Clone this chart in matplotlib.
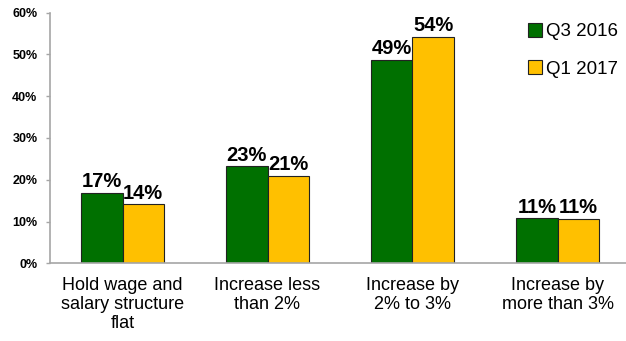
import matplotlib.pyplot as plt
import numpy as np

plt.rcParams['font.family'] = ['Liberation Sans', 'DejaVu Sans']

categories = ["Hold wage and\nsalary structure\nflat", "Increase less\nthan 2%",
              "Increase by\n2% to 3%", "Increase by\nmore than 3%"]
q3_2016 = [16.9, 23.2, 48.7, 10.8]
q1_2017 = [14.1, 20.9, 54.3, 10.6]
series_names = ["Q3 2016", "Q1 2017"]
colors = ["#007000", "#ffc000"]
y_ticks = [0, 10, 20, 30, 40, 50, 60]

fig = plt.figure(figsize=(6.26, 3.41), dpi=100)
ax = fig.add_axes([50 / 626, 77.7 / 341, 580 / 626, 250.6 / 341])

x = np.arange(len(categories))
width = 0.286
for i, (vals, name, col) in enumerate(zip([q3_2016, q1_2017], series_names, colors)):
    pos = x + (i - 0.5) * width
    bars = ax.bar(pos, vals, width, color=col, edgecolor="#222222",
                  linewidth=0.8, label=name)
    for b, v in zip(bars, vals):
        ax.text(b.get_x() + b.get_width() / 2, v + 0.4, f"{v:.0f}%",
                ha="center", va="bottom", fontsize=14.5, fontweight="bold")

ax.set_xlim(-0.5, 3.5)
ax.set_ylim(0, 60)
ax.set_yticks(y_ticks)
ax.set_yticklabels([f"{t}%" for t in y_ticks], fontsize=9, fontweight="bold")
ax.set_xticks(x)
ax.set_xticklabels(categories, fontsize=13, linespacing=1.15)
ax.tick_params(axis="x", length=0, pad=10)
ax.tick_params(axis="y", length=3, width=1, color="#a6a6a6", pad=6)

for s in ["top", "right"]:
    ax.spines[s].set_visible(False)
for s in ["left", "bottom"]:
    ax.spines[s].set_color("#a6a6a6")
    ax.spines[s].set_linewidth(1.2)

leg = fig.legend(loc="upper left", bbox_to_anchor=(528 / 626, 1 - 23 / 341),
                 frameon=False, fontsize=13.5, handlelength=0.75, handleheight=0.75,
                 handletextpad=0.2, labelspacing=1.05, borderpad=0, borderaxespad=0)

fig.savefig("out.png", dpi=100)
